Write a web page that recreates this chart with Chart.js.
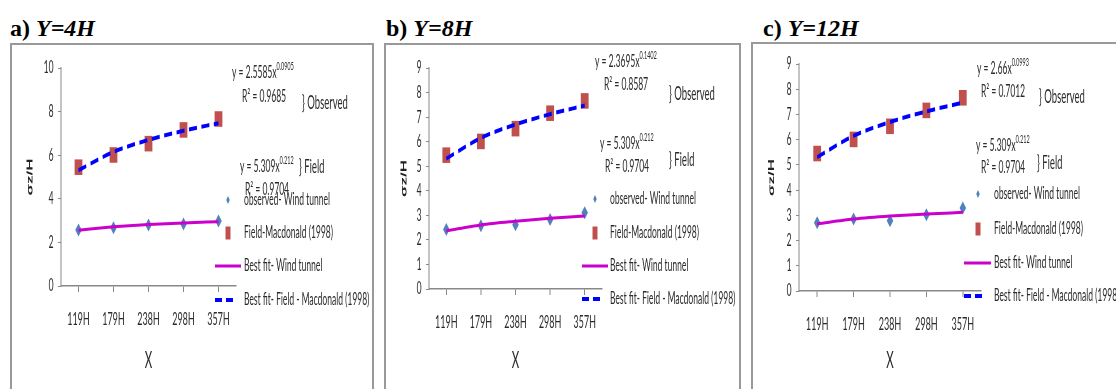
<!DOCTYPE html>
<html>
<head>
<meta charset="utf-8">
<script src="https://cdn.jsdelivr.net/npm/chart.js@4"></script>
<style>
body { margin: 0; background: #fff; width: 1116px; height: 389px; overflow: hidden; position: relative; }
.title { position: absolute; top: 16px; font: bold 24px/24px "Liberation Serif", "Times New Roman", serif; white-space: nowrap; color: #000; }
.title i { font-style: italic; }
.frame { position: absolute; border: 2px solid #999; border-bottom: none; box-sizing: border-box; }
.sq { position: absolute; transform-origin: 0 0; }
</style>
</head>
<body>
<div class="title" style="left:10px">a) <i>Y=4H</i></div>
<div class="title" style="left:386px">b) <i>Y=8H</i></div>
<div class="title" style="left:763px">c) <i>Y=12H</i></div>

<div class="frame" style="left:10px;top:43px;width:364px;height:350px"></div>
<div class="frame" style="left:384px;top:43px;width:357px;height:350px"></div>
<div class="frame" style="left:751px;top:42px;width:400px;height:350px"></div>

<div class="sq" id="wa"><canvas id="ca"></canvas></div>
<div class="sq" id="wb"><canvas id="cb"></canvas></div>
<div class="sq" id="wc"><canvas id="cc"></canvas></div>

<script>
// x categories (distance downstream)
const categories = ['119H', '179H', '238H', '298H', '357H'];

// Field data - Macdonald (1998), same in all three panels
const fieldObs = [5.45, 6.01, 6.53, 7.16, 7.66];
const fieldFit = [5.31, 6.15, 6.70, 7.12, 7.47];

// wind tunnel observations and their best fit, per panel
const windA = [2.57, 2.67, 2.80, 2.84, 2.98];
const windFitA = [2.56, 2.72, 2.82, 2.89, 2.95];
const windB = [2.42, 2.58, 2.62, 2.83, 3.11];
const windFitB = [2.37, 2.61, 2.76, 2.88, 2.97];
const windC = [2.71, 2.85, 2.79, 3.02, 3.29];
const windFitC = [2.66, 2.85, 2.97, 3.05, 3.12];

const seriesLabels = ['observed- Wind tunnel', 'Field-Macdonald (1998)', 'Best fit- Wind tunnel', 'Best fit- Field - Macdonald (1998)'];

const BLUE_PT = '#4F81BD';
const RED_PT = '#C0504D';
const MAGENTA = '#CC00CC';
const DASH_BLUE = '#0000FF';
const TXT = '#2b2b2b';
const FONT = 'Lato';

// the original plots are squeezed horizontally; draw wide and squash with CSS
const SQX = 0.5;

function drawNotes(ctx, P) {
    const ux = x => (x - P.left) / SQX;
    const uy = y => y - P.top;
    ctx.save();
    ctx.fillStyle = TXT;
    ctx.textBaseline = 'middle';
    ctx.textAlign = 'left';
    P.notes.forEach(n => {
        if (n.kind === 'eq') {
            ctx.font = '17px ' + FONT;
            ctx.fillText(n.main, ux(n.x), uy(n.y));
            const w = ctx.measureText(n.main).width;
            ctx.font = '11px ' + FONT;
            ctx.fillText(n.sup, ux(n.x) + w, uy(n.y) - 7);
        } else if (n.kind === 'big') {
            ctx.font = '19px ' + FONT;
            ctx.fillText(n.text, ux(n.x), uy(n.y));
        } else {
            ctx.font = '17px ' + FONT;
            ctx.fillText(n.text, ux(n.x), uy(n.y));
        }
    });
    ctx.restore();
}

function drawLegend(ctx, P) {
    const L = P.legend;
    const mx = (L.mx - P.left) / SQX;
    const lx0 = (L.lx0 - P.left) / SQX;
    const lx1 = (L.lx1 - P.left) / SQX;
    const tx = (L.tx - P.left) / SQX;
    const ys = L.ys.map(y => y - P.top);
    ctx.save();
    // diamond
    ctx.fillStyle = BLUE_PT;
    ctx.beginPath();
    ctx.moveTo(mx, ys[0] - 4);
    ctx.lineTo(mx + 3.5, ys[0]);
    ctx.lineTo(mx, ys[0] + 4);
    ctx.lineTo(mx - 3.5, ys[0]);
    ctx.closePath();
    ctx.fill();
    // square
    ctx.fillStyle = RED_PT;
    ctx.fillRect(mx - 5, ys[1] - 6.5, 10, 13);
    // magenta line
    ctx.strokeStyle = MAGENTA;
    ctx.lineWidth = 3;
    ctx.beginPath();
    ctx.moveTo(lx0, ys[2]);
    ctx.lineTo(lx1, ys[2]);
    ctx.stroke();
    // dashed line
    ctx.strokeStyle = DASH_BLUE;
    ctx.lineWidth = 4;
    ctx.setLineDash([14, 8]);
    ctx.beginPath();
    ctx.moveTo(lx0, ys[3]);
    ctx.lineTo(lx1 - 10, ys[3]);
    ctx.stroke();
    ctx.setLineDash([]);
    // labels
    ctx.fillStyle = TXT;
    ctx.font = '17px ' + FONT;
    ctx.textBaseline = 'middle';
    ys.forEach((y, i) => ctx.fillText(seriesLabels[i], tx, y));
    ctx.restore();
}

function makePanel(id, wrap, wind, windFit, P) {
    // P holds page-space geometry of the panel; convert to unsquashed canvas space
    const W = (P.right - P.left) / SQX;
    const H = 389 - P.top;
    const yW = Math.round((P.axisL - P.left) / SQX);
    const rightPad = Math.round(W - (P.axisR - P.left) / SQX);
    const w = document.getElementById(wrap);
    w.style.left = P.left + 'px';
    w.style.top = P.top + 'px';
    w.style.width = W + 'px';
    w.style.height = H + 'px';
    w.style.transform = 'scaleX(' + SQX + ')';

    const ctx = document.getElementById(id).getContext('2d');
    return new Chart(ctx, {
        type: 'line',
        data: {
            labels: categories,
            datasets: [
                {
                    label: seriesLabels[3], data: fieldFit, order: 0,
                    borderColor: DASH_BLUE, borderWidth: 4, borderDash: [16, 9],
                    pointRadius: 0, cubicInterpolationMode: 'monotone', fill: false
                },
                {
                    label: seriesLabels[2], data: windFit, order: 0,
                    borderColor: MAGENTA, borderWidth: 3,
                    pointRadius: 0, cubicInterpolationMode: 'monotone', fill: false
                },
                {
                    label: seriesLabels[1], data: fieldObs, order: 1, showLine: false,
                    pointStyle: 'rect', pointRadius: 11, pointBorderWidth: 0,
                    backgroundColor: RED_PT, borderColor: RED_PT
                },
                {
                    label: seriesLabels[0], data: wind, order: 1, showLine: false,
                    pointStyle: 'rectRot', pointRadius: 6.5, pointBorderWidth: 0,
                    backgroundColor: BLUE_PT, borderColor: BLUE_PT
                }
            ]
        },
        options: {
            responsive: true,
            maintainAspectRatio: false,
            animation: false,
            layout: { padding: { left: 0, top: P.plotT - P.top, right: rightPad, bottom: 0 } },
            plugins: {
                legend: { display: false },
                tooltip: { enabled: false }
            },
            scales: {
                x: {
                    offset: true,
                    grid: { display: true, drawOnChartArea: false, tickLength: 6, color: '#888', lineWidth: 2 },
                    border: { color: '#888', width: 1.5 },
                    ticks: { font: { family: FONT, size: 18 }, color: TXT, padding: 16, maxRotation: 0 },
                    title: { display: true, text: 'X', font: { family: FONT, size: 23 }, color: TXT, padding: { top: 0, bottom: 15 } },
                    afterFit: s => { s.height = H - (P.plotB - P.top); }
                },
                y: {
                    min: 0, max: P.yMax,
                    grid: { display: true, drawOnChartArea: false, tickLength: 6, color: '#888' },
                    border: { color: '#888', width: 2 },
                    ticks: { stepSize: P.step, font: { family: FONT, size: 17 }, color: TXT, padding: 9 },
                    title: { display: true, text: 'σz/H', font: { family: 'Liberation Sans', size: 17, weight: 'bold' }, color: '#222', padding: { top: P.yTitlePad, bottom: 0 } },
                    afterFit: s => { s.width = yW; }
                }
            }
        },
        plugins: [{
            id: 'notes',
            afterDraw: chart => {
                drawNotes(chart.ctx, P);
                drawLegend(chart.ctx, P);
            }
        }]
    });
}

makePanel('ca', 'wa', windA, windFitA, {
    left: 11, top: 44, right: 373, axisL: 61, axisR: 236, plotT: 68, plotB: 286,
    yMax: 10, step: 2, yTitlePad: 28,
    legend: { mx: 228, lx0: 215, lx1: 241, tx: 244, ys: [200, 233, 266, 300] },
    notes: [
        { kind: 'eq', x: 232, y: 73, main: 'y = 2.5585x', sup: '0.0905' },
        { kind: 'txt', x: 242, y: 97, text: 'R² = 0.9685' },
        { kind: 'big', x: 302, y: 103, text: '} Observed' },
        { kind: 'eq', x: 240, y: 167, main: 'y = 5.309x', sup: '0.212' },
        { kind: 'big', x: 299, y: 167, text: '} Field' },
        { kind: 'txt', x: 245, y: 190, text: 'R² = 0.9704' }
    ]
});

makePanel('cb', 'wb', windB, windFitB, {
    left: 385, top: 44, right: 740, axisL: 429, axisR: 602, plotT: 68, plotB: 289,
    yMax: 9, step: 1, yTitlePad: 28,
    legend: { mx: 595, lx0: 582, lx1: 608, tx: 610, ys: [199, 233, 266, 299] },
    notes: [
        { kind: 'eq', x: 595, y: 62, main: 'y = 2.3695x', sup: '0.1402' },
        { kind: 'txt', x: 604, y: 85, text: 'R² = 0.8587' },
        { kind: 'big', x: 669, y: 94, text: '} Observed' },
        { kind: 'eq', x: 600, y: 144, main: 'y = 5.309x', sup: '0.212' },
        { kind: 'txt', x: 605, y: 167, text: 'R² = 0.9704' },
        { kind: 'big', x: 669, y: 160, text: '} Field' }
    ]
});

makePanel('cc', 'wc', windC, windFitC, {
    left: 752, top: 43, right: 1116, axisL: 799, axisR: 981, plotT: 64, plotB: 291,
    yMax: 9, step: 1, yTitlePad: 29,
    legend: { mx: 978, lx0: 964, lx1: 991, tx: 994, ys: [194, 229, 263, 296] },
    notes: [
        { kind: 'eq', x: 977, y: 69, main: 'y = 2.66x', sup: '0.0993' },
        { kind: 'txt', x: 981, y: 92, text: 'R² = 0.7012' },
        { kind: 'big', x: 1039, y: 97, text: '} Observed' },
        { kind: 'eq', x: 976, y: 146, main: 'y = 5.309x', sup: '0.212' },
        { kind: 'txt', x: 981, y: 168, text: 'R² = 0.9704' },
        { kind: 'big', x: 1037, y: 163, text: '} Field' }
    ]
});
</script>
</body>
</html>
